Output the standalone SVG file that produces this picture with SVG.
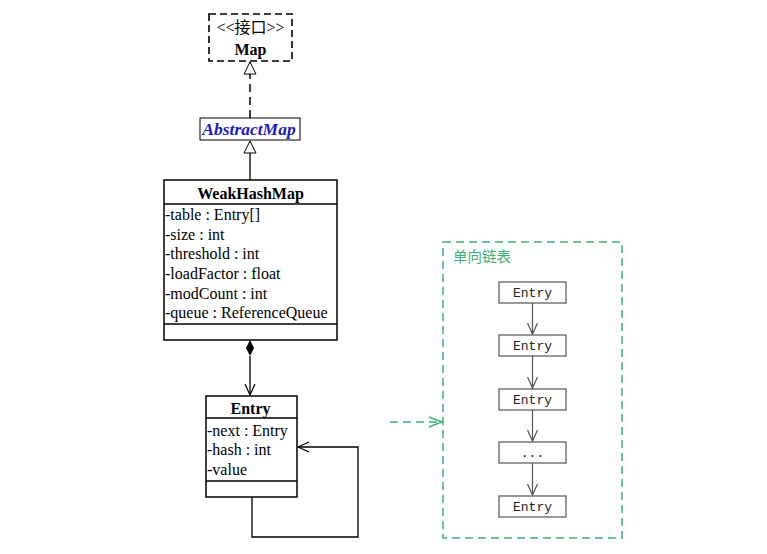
<svg xmlns="http://www.w3.org/2000/svg" width="767" height="554" viewBox="0 0 767 554">
<style>
.box{fill:#fff;stroke:#000;stroke-width:1.5}
.t{font-family:"Liberation Serif","Noto Sans CJK SC",serif;font-size:16px;fill:#000}
.b{font-weight:bold}
.ln{fill:none;stroke:#000;stroke-width:1.3}
.eb{fill:#fff;stroke:#555;stroke-width:1.2}
.et{font-family:"Liberation Mono","DejaVu Sans Mono",monospace;font-size:13px;fill:#222;text-anchor:middle}
.ea{fill:none;stroke:#555;stroke-width:1.2}
.g{fill:none;stroke:#3cb371;stroke-width:1.5;stroke-dasharray:8 5}
</style>
<defs>
<marker id="tri" markerWidth="16" markerHeight="16" refX="13" refY="7" orient="auto" markerUnits="userSpaceOnUse">
<path d="M1,1 L13,7 L1,13 Z" fill="#fff" stroke="#000" stroke-width="1"/>
</marker>
<marker id="open" markerWidth="14" markerHeight="14" refX="12" refY="6" orient="auto" markerUnits="userSpaceOnUse">
<path d="M1,1 L12,6 L1,11" fill="none" stroke="#000" stroke-width="1.2"/>
</marker>
<marker id="openg" markerWidth="14" markerHeight="14" refX="12" refY="6" orient="auto" markerUnits="userSpaceOnUse">
<path d="M1,1 L12,6 L1,11" fill="none" stroke="#555" stroke-width="1.2"/>
</marker>
<marker id="opengreen" markerWidth="16" markerHeight="14" refX="14" refY="6" orient="auto" markerUnits="userSpaceOnUse">
<path d="M1,1 L14,6 L1,11" fill="none" stroke="#3cb371" stroke-width="1.4"/>
</marker>
</defs>

<g id="Map">
<rect x="209" y="14" width="83" height="47" fill="#fff" stroke="#000" stroke-width="1.6" stroke-dasharray="7 4"/>
<text class="t" x="250.5" y="33" text-anchor="middle" font-size="17" fill="#444">&lt;&lt;接口&gt;&gt;</text>
<text class="t b" x="250.5" y="55" text-anchor="middle" font-size="18">Map</text>
</g>

<g id="AbstractMap">
<rect x="200" y="118" width="100" height="22" fill="#fff" stroke="#000" stroke-width="1"/>
<text x="249" y="135" text-anchor="middle" font-family="Liberation Serif,serif" font-size="17.5" font-weight="bold" font-style="italic" fill="#1a1acd">AbstractMap</text>
</g>

<g id="WeakHashMap">
<rect class="box" x="164" y="180" width="173" height="160"/>
<line class="ln" x1="164" y1="204" x2="337" y2="204"/>
<line class="ln" x1="164" y1="324" x2="337" y2="324"/>
<text class="t b" x="250.5" y="199" text-anchor="middle" font-size="19">WeakHashMap</text>
<text class="t" x="165" y="220">-table : Entry[]</text>
<text class="t" x="165" y="240">-size : int</text>
<text class="t" x="165" y="259">-threshold : int</text>
<text class="t" x="165" y="279">-loadFactor : float</text>
<text class="t" x="165" y="299">-modCount : int</text>
<text class="t" x="165" y="318">-queue : ReferenceQueue</text>
</g>

<g id="Entry">
<rect class="box" x="206" y="396" width="91" height="101"/>
<line class="ln" x1="206" y1="418" x2="297" y2="418"/>
<line class="ln" x1="206" y1="481" x2="297" y2="481"/>
<text class="t b" x="250.5" y="414" text-anchor="middle" font-size="18">Entry</text>
<text class="t" x="207" y="436">-next : Entry</text>
<text class="t" x="207" y="455">-hash : int</text>
<text class="t" x="207" y="475">-value</text>
</g>

<g id="LinkedList">
<rect class="g" x="443" y="242" width="179" height="296"/>
<text x="453" y="262" font-family="Noto Sans CJK SC,sans-serif" font-size="14.5" fill="#3cb371">单向链表</text>
</g>
<g id="E1"><rect class="eb" x="499" y="282" width="67" height="21"/><text class="et" x="532.5" y="297">Entry</text></g>
<g id="E2"><rect class="eb" x="499" y="335" width="67" height="21"/><text class="et" x="532.5" y="350">Entry</text></g>
<g id="E3"><rect class="eb" x="499" y="389" width="67" height="21"/><text class="et" x="532.5" y="404">Entry</text></g>
<g id="E4"><rect class="eb" x="499" y="442" width="67" height="21"/><text class="et" x="532.5" y="457">...</text></g>
<g id="E5"><rect class="eb" x="499" y="496" width="67" height="21"/><text class="et" x="532.5" y="511">Entry</text></g>

<g id="connectors">
<line x1="250" y1="118" x2="250" y2="62" stroke="#000" stroke-width="1.5" stroke-dasharray="8 5" marker-end="url(#tri)"/>
<line x1="250" y1="180" x2="250" y2="141" stroke="#000" stroke-width="1.3" marker-end="url(#tri)"/>
<path d="M250,340 L254,348 L250,356 L246,348 Z" fill="#000"/>
<line x1="250" y1="356" x2="250" y2="395" stroke="#000" stroke-width="1.3" marker-end="url(#open)"/>
<polyline points="252,497 252,537 358,537 358,447 298,447" class="ln" stroke-width="1.5" marker-end="url(#open)"/>
<line x1="390" y1="422" x2="442" y2="422" class="g" marker-end="url(#opengreen)"/>
<line class="ea" x1="532.5" y1="303" x2="532.5" y2="334" marker-end="url(#openg)"/>
<line class="ea" x1="532.5" y1="356" x2="532.5" y2="388" marker-end="url(#openg)"/>
<line class="ea" x1="532.5" y1="410" x2="532.5" y2="441" marker-end="url(#openg)"/>
<line class="ea" x1="532.5" y1="463" x2="532.5" y2="495" marker-end="url(#openg)"/>
</g>
</svg>
